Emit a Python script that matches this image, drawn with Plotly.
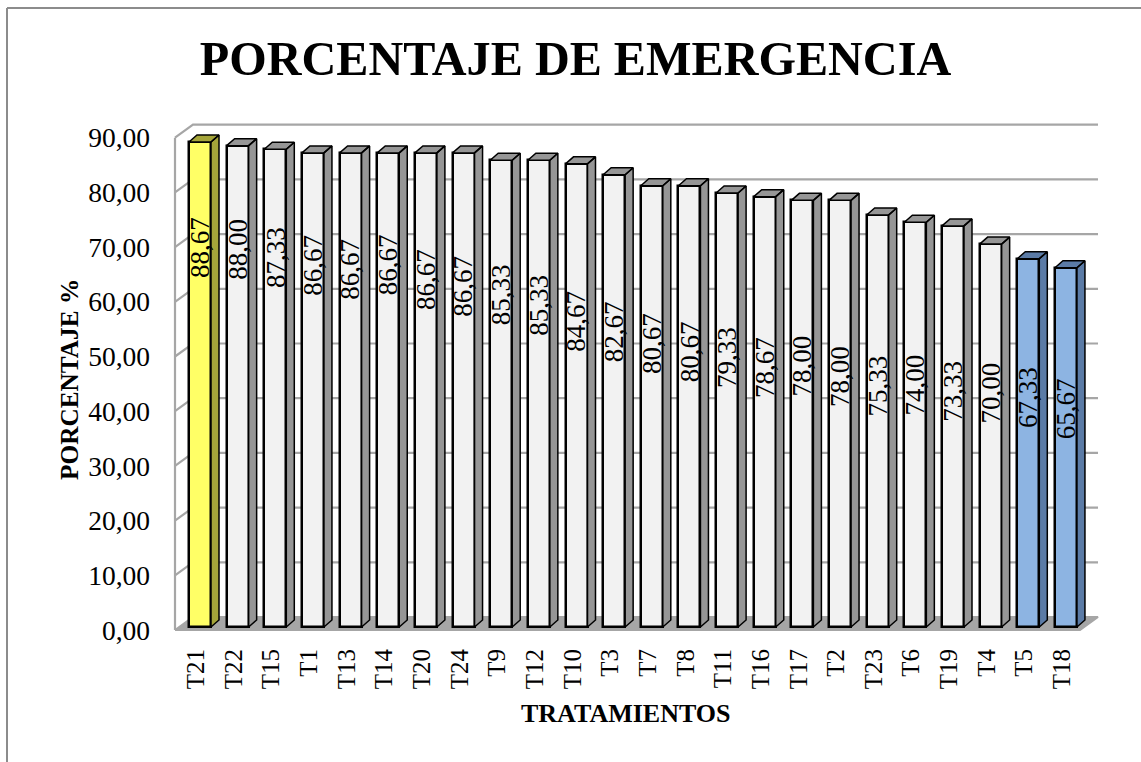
import plotly.graph_objects as go

categories = ["T21","T22","T15","T1","T13","T14","T20","T24","T9","T12","T10","T3",
              "T7","T8","T11","T16","T17","T2","T23","T6","T19","T4","T5","T18"]
values = [88.67,88.00,87.33,86.67,86.67,86.67,86.67,86.67,85.33,85.33,84.67,82.67,
          80.67,80.67,79.33,78.67,78.00,78.00,75.33,74.00,73.33,70.00,67.33,65.67]
label_anchor = [69.3,69.1,67.5,66.2,65.4,66.2,63.6,62.3,60.7,58.9,55.9,53.9,
                51.9,50.3,49.2,47.5,47.7,45.7,44.1,44.2,43.0,42.8,41.9,40.0]
y_ticks = [0,10,20,30,40,50,60,70,80,90]
y_tick_text = ["0,00","10,00","20,00","30,00","40,00","50,00","60,00","70,00","80,00","90,00"]
value_text = [f"{v:.2f}".replace(".", ",") for v in values]

W, H = 1141, 762
L, R, T, B = 165, 1110, 110, 640
X0, XS = 200, 37.65
Y0_FRONT, Y0_BAR, YS = 630, 627, 5.47
FONT = "Liberation Serif"

xr = [(L - X0) / XS, (R - X0) / XS]
y1r = [(Y0_FRONT - B) / YS, (Y0_FRONT - T) / YS]
y2r = [(Y0_BAR - B) / YS, (Y0_BAR - T) / YS]

HALF = 11 / XS
BAR_DX, BAR_DY = 8 / XS, 7 / YS
WALL_DX, WALL_DY = 18 / XS, 13 / YS
WALL_L, WALL_R = (175 - X0) / XS, (1080 - X0) / XS
TICK_SHIFT = -4 / XS
GRID = "#A6A6A6"

def group(i):
    return "y" if i == 0 else ("b" if i >= len(values) - 2 else "w")

FRONT = {"y": "#FFFF66", "w": "#F2F2F2", "b": "#8DB4E2"}
SIDE = {"y": "#A5A53A", "w": "#969696", "b": "#5B7BA6"}

fig = go.Figure()

# floor
fig.add_trace(go.Scatter(
    x=[WALL_L, WALL_L + WALL_DX, WALL_R + WALL_DX, WALL_R, WALL_L],
    y=[0, WALL_DY, WALL_DY, 0, 0], mode="lines", fill="toself", fillcolor=GRID,
    line=dict(color=GRID, width=2), xaxis="x", yaxis="y", hoverinfo="skip", showlegend=False))

# gridlines with the left-wall return
gx, gy = [], []
for v in y_ticks[1:]:
    gx += [WALL_L, WALL_L + WALL_DX, WALL_R + WALL_DX, None]
    gy += [v, v + WALL_DY, v + WALL_DY, None]
gx += [WALL_L, WALL_L]
gy += [0, y_ticks[-1]]
fig.add_trace(go.Scatter(x=gx, y=gy, mode="lines", line=dict(color=GRID, width=2.2),
                         xaxis="x", yaxis="y", hoverinfo="skip", showlegend=False))

# bars
fig.add_trace(go.Bar(
    x=list(range(len(values))), y=values, width=2 * HALF,
    marker=dict(color=[FRONT[group(i)] for i in range(len(values))],
                line=dict(color="black", width=2.5)),
    xaxis="x", yaxis="y2", showlegend=False))

# side and top faces
for g in "ywb":
    sx, sy, tx, ty = [], [], [], []
    for i, v in enumerate(values):
        if group(i) != g:
            continue
        r, l = i + HALF, i - HALF
        sx += [r, r + BAR_DX, r + BAR_DX, r, r, None]
        sy += [0, BAR_DY, v + BAR_DY, v, 0, None]
        tx += [l, l + BAR_DX, r + BAR_DX, r, l, None]
        ty += [v, v + BAR_DY, v + BAR_DY, v, v, None]
    fig.add_trace(go.Scatter(x=sx + tx, y=sy + ty, mode="lines", fill="toself", fillcolor=SIDE[g],
                             line=dict(color="black", width=1.5), xaxis="x", yaxis="y2",
                             hoverinfo="skip", showlegend=False))

ann = [dict(x=i, y=a, xref="x", yref="y2", text=t, textangle=-90, showarrow=False,
            xanchor="center", yanchor="middle", font=dict(family=FONT, size=27, color="black"))
       for i, (a, t) in enumerate(zip(label_anchor, value_text))]

def px(x): return (x - L) / (R - L)
def py(y): return (B - y) / (B - T)

ann += [
    dict(x=px(626), y=py(713), xref="paper", yref="paper", text="<b>TRATAMIENTOS</b>", showarrow=False,
         xanchor="center", yanchor="middle", font=dict(family=FONT, size=26, color="black")),
    dict(x=px(69), y=py(380), xref="paper", yref="paper", text="<b>PORCENTAJE %</b>", showarrow=False,
         textangle=-90, xanchor="center", yanchor="middle", font=dict(family=FONT, size=25.3, color="black")),
]

border = dict(color="#8C8C8C", width=2)
shapes = [
    dict(type="line", xref="paper", yref="paper", x0=px(7), x1=px(W), y0=py(8), y1=py(8), line=border),
    dict(type="line", xref="paper", yref="paper", x0=px(7), x1=px(7), y0=py(8), y1=py(H), line=border),
]

fig.update_layout(
    width=W, height=H, autosize=False, paper_bgcolor="white", plot_bgcolor="rgba(0,0,0,0)",
    margin=dict(l=L, r=W - R, t=T, b=H - B, pad=0), showlegend=False, bargap=0,
    font=dict(family=FONT, color="black"),
    title=dict(text="<b>PORCENTAJE DE EMERGENCIA</b>", x=575.5 / W, xanchor="center", y=1 - 58 / H,
               yanchor="middle", font=dict(family=FONT, size=48.2, color="black")),
    xaxis=dict(range=xr, tickmode="array", tickvals=[i + TICK_SHIFT for i in range(len(categories))],
               ticktext=categories, tickangle=-90, tickfont=dict(family=FONT, size=25, color="black"),
               showgrid=False, zeroline=False, showline=False, ticks="", ticklabelstandoff=3),
    yaxis=dict(range=y1r, tickmode="array", tickvals=y_ticks, ticktext=y_tick_text,
               tickfont=dict(family=FONT, size=27.5, color="black"), showgrid=False, zeroline=False,
               showline=False, ticks="", ticklabelstandoff=14),
    yaxis2=dict(range=y2r, overlaying="y", side="left", showticklabels=False, showgrid=False,
                zeroline=False, showline=False, ticks=""),
    annotations=ann, shapes=shapes,
)

fig.write_html("out.html", config={"displayModeBar": False},
               post_script="document.body.style.margin='0';")
